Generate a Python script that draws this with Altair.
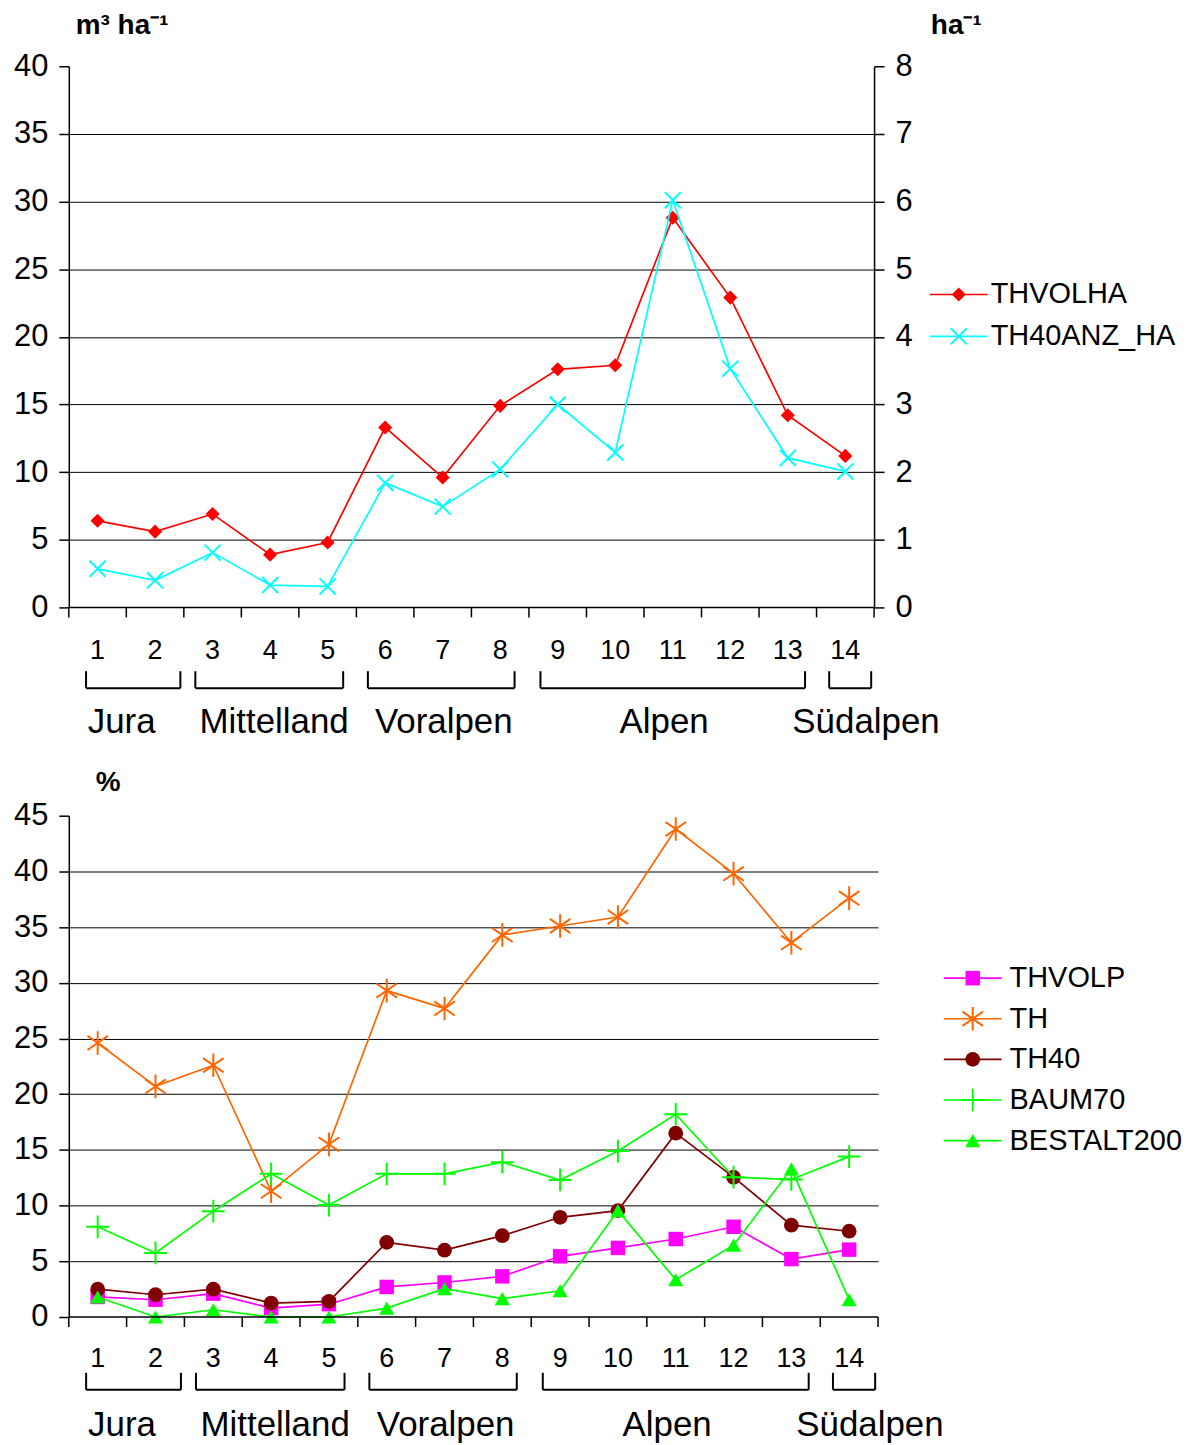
import altair as alt
import pandas as pd

# ---------------- data ----------------
categories = list(range(1, 15))

# top panel
thvolha = [6.4, 5.6, 6.9, 3.9, 4.8, 13.3, 9.6, 14.9, 17.6, 17.9, 28.8, 22.9, 14.2, 11.2]
th40anz_ha = [0.57, 0.40, 0.81, 0.33, 0.31, 1.84, 1.49, 2.04, 3.0, 2.29, 6.02, 3.53, 2.21, 2.01]

# bottom panel
thvolp = [1.8, 1.55, 2.1, 0.8, 1.15, 2.7, 3.1, 3.65, 5.45, 6.2, 7.0, 8.1, 5.2, 6.05]
th = [24.6, 20.7, 22.6, 11.3, 15.5, 29.3, 27.7, 34.3, 35.1, 35.9, 43.8, 39.8, 33.6, 37.6]
th40 = [2.5, 2.0, 2.5, 1.25, 1.4, 6.7, 6.0, 7.3, 8.95, 9.55, 16.5, 12.55, 8.25, 7.7]
baum70 = [8.1, 5.75, 9.5, 12.85, 10.05, 12.85, 12.85, 13.9, 12.3, 14.9, 18.2, 12.55, 12.35, 14.4]
bestalt200 = [1.8, 0.0, 0.65, 0.0, 0.0, 0.8, 2.55, 1.65, 2.35, 9.55, 3.35, 6.45, 13.3, 1.55]

top_names = ["THVOLHA", "TH40ANZ_HA"]
bottom_names = ["THVOLP", "TH", "TH40", "BAUM70", "BESTALT200"]

regions = ["Jura", "Mittelland", "Voralpen", "Alpen", "Südalpen"]
region_lo = [0.8, 2.7, 5.7, 8.7, 13.72]
region_hi = [2.44, 5.27, 8.25, 13.3, 14.45]
region_label_x = [1.42, 4.07, 7.02, 10.85, 14.36]

unit_top_left = "m³ ha⁻¹"
unit_top_right = "ha⁻¹"
unit_bottom = "%"

# ---------------- styling ----------------
FONT = "Liberation Sans, Arial, sans-serif"
ASTER = "M0,-1L0,1M-0.87,-0.6L0.87,0.6M-0.87,0.6L0.87,-0.6"
XSHAPE = "M-1,-1L1,1M-1,1L1,-1"
PLUS = "M-1,0L1,0M0,-1L0,1"
LW = 1.7

series_style = {
    "THVOLHA": dict(color="#FF0000", shape="diamond", size=200, filled=True),
    "TH40ANZ_HA": dict(color="#00FFFF", shape=XSHAPE, size=260, filled=False),
    "THVOLP": dict(color="#FF00FF", shape="square", size=210, filled=True),
    "TH": dict(color="#FF6600", shape=ASTER, size=560, filled=False),
    "TH40": dict(color="#800000", shape="circle", size=220, filled=True),
    "BAUM70": dict(color="#00FF00", shape=PLUS, size=520, filled=False),
    "BESTALT200": dict(color="#00FF00", shape="triangle-up", size=230, filled=True),
}

x_bounds = [c - 0.5 for c in categories] + [categories[-1] + 0.5]
XSCALE = dict(domain=[0.5, 14.5], nice=False, zero=False)


def xq(field):
    return alt.X(field, scale=alt.Scale(**XSCALE), axis=None)


def series_layers(name, values, yscale, yaxis):
    st = series_style[name]
    df = pd.DataFrame({"cat": categories, "v": values})
    y = alt.Y("v:Q", scale=yscale, axis=yaxis)
    line = alt.Chart(df).mark_line(color=st["color"], strokeWidth=LW).encode(x=xq("cat:Q"), y=y)
    pts = alt.Chart(df).mark_point(
        shape=st["shape"], size=st["size"], filled=st["filled"], color=st["color"],
        opacity=1, strokeWidth=2 if not st["filled"] else 1,
    ).encode(x=xq("cat:Q"), y=y)
    return [line, pts]


def legend_layers(names, x0, x1, xt, y_first, y_last):
    df = pd.DataFrame({"name": names, "idx": list(range(len(names)))})
    yscale = alt.Scale(domain=[0, len(names) - 1], range=[y_first, y_last], nice=False, zero=False)
    y = alt.Y("idx:Q", scale=yscale, axis=None)
    layers = []
    for n in names:
        st = series_style[n]
        d = df[df["name"] == n]
        layers.append(alt.Chart(d).mark_rule(color=st["color"], strokeWidth=LW).encode(
            x=alt.value(x0), x2=alt.value(x1), y=y))
        layers.append(alt.Chart(d).mark_point(
            shape=st["shape"], size=st["size"], filled=st["filled"], color=st["color"],
            opacity=1, strokeWidth=2 if not st["filled"] else 1,
        ).encode(x=alt.value((x0 + x1) / 2), y=y))
    layers.append(alt.Chart(df).mark_text(
        align="left", baseline="middle", fontSize=29, font=FONT, color="black"
    ).encode(x=alt.value(xt), y=y, text="name:N"))
    return alt.layer(*layers)


def x_axis_layers(H, dy):
    base = pd.DataFrame({"a": [x_bounds[0]], "b": [x_bounds[-1]]})
    ticks = pd.DataFrame({"b": x_bounds})
    labs = pd.DataFrame({"cat": categories, "lab": [str(c) for c in categories]})
    baseline = alt.Chart(base).mark_rule(color="black", strokeWidth=1.5).encode(
        x=xq("a:Q"), x2="b:Q", y=alt.value(H))
    tk = alt.Chart(ticks).mark_rule(color="black", strokeWidth=1.5).encode(
        x=xq("b:Q"), y=alt.value(H), y2=alt.value(H + 10))
    txt = alt.Chart(labs).mark_text(
        align="center", baseline="middle", fontSize=27, font=FONT, color="black"
    ).encode(x=xq("cat:Q"), y=alt.value(H + dy), text="lab:N")
    return [baseline, tk, txt]


def region_layers(H, br_top, br_bot, lab_y):
    df = pd.DataFrame({"region": regions, "lo": region_lo, "hi": region_hi, "mid": region_label_x})
    hline = alt.Chart(df).mark_rule(color="black", strokeWidth=2).encode(
        x=xq("lo:Q"), x2="hi:Q", y=alt.value(H + br_bot))
    lv = alt.Chart(df).mark_rule(color="black", strokeWidth=2).encode(
        x=xq("lo:Q"), y=alt.value(H + br_top), y2=alt.value(H + br_bot))
    rv = alt.Chart(df).mark_rule(color="black", strokeWidth=2).encode(
        x=xq("hi:Q"), y=alt.value(H + br_top), y2=alt.value(H + br_bot))
    txt = alt.Chart(df).mark_text(
        align="center", baseline="middle", fontSize=35, font=FONT, color="black"
    ).encode(x=xq("mid:Q"), y=alt.value(H + lab_y), text="region:N")
    return [hline, lv, rv, txt]


def unit_text(label, x, y):
    df = pd.DataFrame({"t": [label]})
    return alt.Chart(df).mark_text(
        align="left", baseline="middle", fontSize=28, fontWeight="bold", font=FONT, color="black"
    ).encode(x=alt.value(x), y=alt.value(y), text="t:N")


def y_axis(vals, top, orient, grid):
    kw = dict(values=vals, tickSize=10, labelPadding=11, labelFontSize=31, orient=orient, title=None, grid=grid)
    if grid:
        kw["gridOpacity"] = {"condition": {"test": f"datum.value >= {top} || datum.value <= 0", "value": 0}, "value": 1}
    return alt.Axis(**kw)


# ---------------- top panel ----------------
W1, H1 = 808, 543
left_scale = alt.Scale(domain=[0, 40], nice=False)
right_scale = alt.Scale(domain=[0, 8], nice=False)
left_part = alt.layer(*series_layers("THVOLHA", thvolha, left_scale,
                                     y_axis(list(range(0, 41, 5)), 40, "left", True)))
right_part = alt.layer(*series_layers("TH40ANZ_HA", th40anz_ha, right_scale,
                                      y_axis(list(range(0, 9)), 8, "right", False)))
top = alt.layer(
    left_part,
    right_part,
    legend_layers(top_names, 864, 922, 925, 229, 271),
    *x_axis_layers(H1, 44),
    *region_layers(H1, 64, 81, 115),
    unit_text(unit_top_left, 7, -40),
    unit_text(unit_top_right, 865, -40),
).resolve_scale(y="independent").properties(width=W1, height=H1)

# ---------------- bottom panel ----------------
W2, H2 = 812, 503
pct_scale = alt.Scale(domain=[0, 45], nice=False)
pct_axis = y_axis(list(range(0, 46, 5)), 45, "left", True)
bottom_series = []
for n, vals in zip(bottom_names, [thvolp, th, th40, baum70, bestalt200]):
    bottom_series += series_layers(n, vals, pct_scale, pct_axis)
main_bottom = alt.layer(*bottom_series)
bottom = alt.layer(
    main_bottom,
    legend_layers(bottom_names, 878, 936, 944, 163, 326),
    *x_axis_layers(H2, 42),
    *region_layers(H2, 56, 73, 108),
    unit_text(unit_bottom, 27, -33),
).resolve_scale(y="independent").properties(width=W2, height=H2)

chart = alt.vconcat(top, bottom, spacing=29).properties(
    padding={"left": 5, "top": 2, "right": 5, "bottom": 5}
).configure(
    font=FONT
).configure_view(stroke=None).configure_axis(
    domainColor="black", domainWidth=1.5, tickColor="black", tickWidth=1.5,
    labelColor="black", labelFont=FONT, gridColor="black", gridWidth=1,
)

chart.save("out.html", embed_options={"renderer": "svg", "actions": False})
